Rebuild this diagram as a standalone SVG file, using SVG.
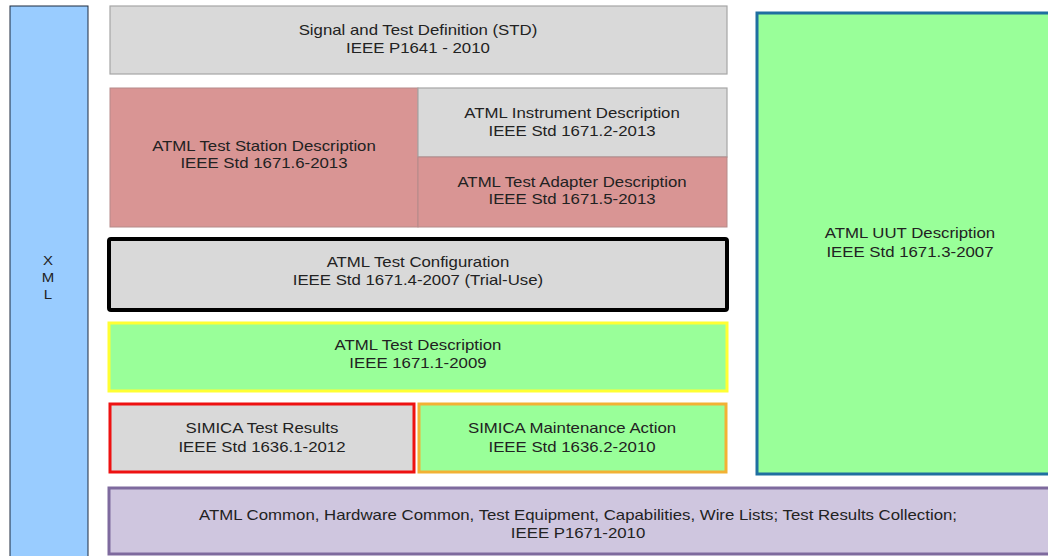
<svg xmlns="http://www.w3.org/2000/svg" width="1048" height="556" viewBox="0 0 1048 556">
<style>
text{font-family:"Liberation Sans",Arial,sans-serif;font-size:14px;fill:#222;text-anchor:middle}
.x{font-size:12.5px}
.gray{fill:#D9D9D9;stroke:#A6A6A6;stroke-width:1.2}
.red{fill:#D99594;stroke:#B58A89;stroke-width:1}
.green{fill:#99FF99}
</style>
<rect width="1048" height="556" fill="#fff"/>
<g id="xml">
<rect x="10" y="6" width="78" height="560" fill="#99CCFF" stroke="#1C2B3E" stroke-width="1"/>
<text class="x" transform="scale(1.2 1)" x="40" y="265">X</text>
<text class="x" transform="scale(1.2 1)" x="40" y="282">M</text>
<text class="x" transform="scale(1.2 1)" x="40" y="299">L</text>
</g>
<g id="std">
<rect class="gray" x="110" y="6" width="617" height="68"/>
<text transform="scale(1.2 1)" x="348.3" y="35">Signal and Test Definition (STD)</text>
<text transform="scale(1.2 1)" x="348.3" y="53">IEEE P1641 - 2010</text>
</g>
<g id="station">
<rect class="red" x="110" y="88" width="308" height="139"/>
<text transform="scale(1.2 1)" x="220" y="151">ATML Test Station Description</text>
<text transform="scale(1.2 1)" x="220" y="168">IEEE Std 1671.6-2013</text>
</g>
<g id="instrument">
<rect class="gray" x="418" y="88" width="309" height="69"/>
<text transform="scale(1.2 1)" x="476.7" y="118">ATML Instrument Description</text>
<text transform="scale(1.2 1)" x="476.7" y="136">IEEE Std 1671.2-2013</text>
</g>
<g id="adapter">
<rect class="red" x="418" y="157" width="309" height="70"/>
<text transform="scale(1.2 1)" x="476.7" y="187">ATML Test Adapter Description</text>
<text transform="scale(1.2 1)" x="476.7" y="204">IEEE Std 1671.5-2013</text>
</g>
<g id="uut">
<rect class="green" x="757" y="13" width="310" height="461" stroke="#1F6FA0" stroke-width="3"/>
<text transform="scale(1.2 1)" x="758.3" y="238">ATML UUT Description</text>
<text transform="scale(1.2 1)" x="758.3" y="257">IEEE Std 1671.3-2007</text>
</g>
<g id="config">
<rect x="109" y="239" width="618" height="71" rx="2" fill="#D9D9D9" stroke="#000" stroke-width="4"/>
<text transform="scale(1.2 1)" x="348.3" y="267">ATML Test Configuration</text>
<text transform="scale(1.2 1)" x="348.3" y="285">IEEE Std 1671.4-2007 (Trial-Use)</text>
</g>
<g id="testdesc">
<rect class="green" x="109" y="323" width="618" height="68" stroke="#FFFF33" stroke-width="3"/>
<text transform="scale(1.2 1)" x="348.3" y="350">ATML Test Description</text>
<text transform="scale(1.2 1)" x="348.3" y="368">IEEE 1671.1-2009</text>
</g>
<g id="simica-results">
<rect x="110" y="404" width="304" height="68" fill="#D9D9D9" stroke="#EE1111" stroke-width="3"/>
<text transform="scale(1.2 1)" x="218.3" y="433">SIMICA Test Results</text>
<text transform="scale(1.2 1)" x="218.3" y="452">IEEE Std 1636.1-2012</text>
</g>
<g id="simica-maint">
<rect class="green" x="419" y="404" width="307" height="68" stroke="#F2B134" stroke-width="3"/>
<text transform="scale(1.2 1)" x="476.7" y="433">SIMICA Maintenance Action</text>
<text transform="scale(1.2 1)" x="476.7" y="452">IEEE Std 1636.2-2010</text>
</g>
<g id="common">
<rect x="109" y="488" width="960" height="66" fill="#CFC6DF" stroke="#7E6A9E" stroke-width="3"/>
<text transform="scale(1.2 1)" x="481.7" y="520">ATML Common, Hardware Common, Test Equipment, Capabilities, Wire Lists; Test Results Collection;</text>
<text transform="scale(1.2 1)" x="481.7" y="538">IEEE P1671-2010</text>
</g>
</svg>
